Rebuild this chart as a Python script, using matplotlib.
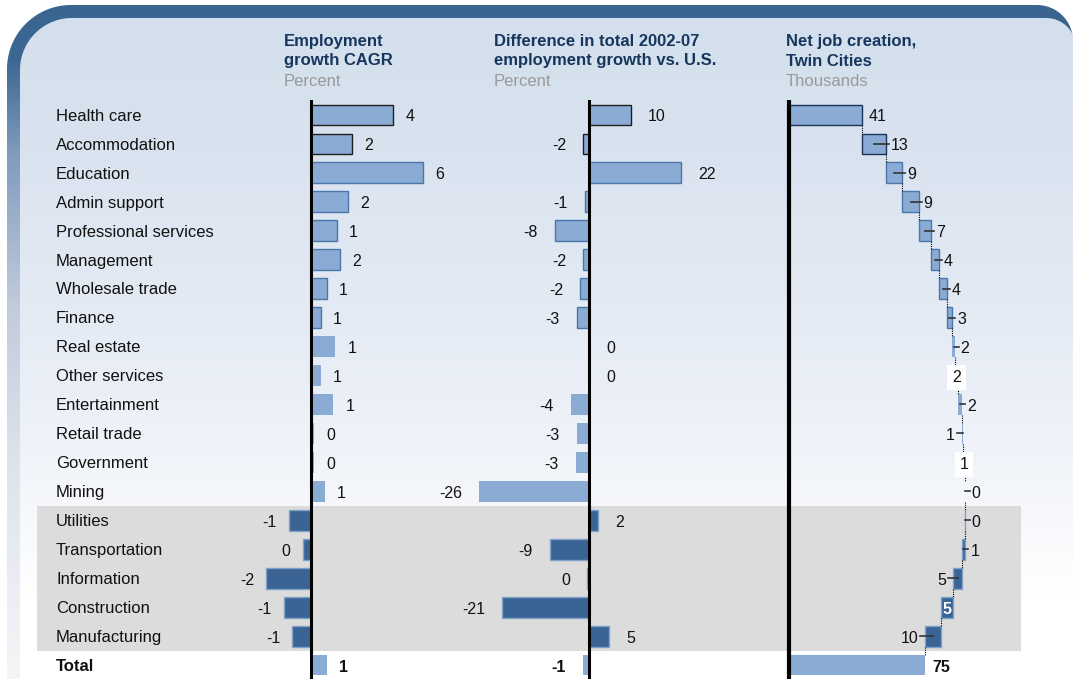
import numpy as np
import matplotlib
matplotlib.use('Agg')
import matplotlib.pyplot as plt
from matplotlib.patches import Polygon, Rectangle

plt.rcParams['font.family'] = ['Liberation Sans', 'DejaVu Sans']

# --- data ---
industries = ['Health care', 'Accommodation', 'Education', 'Admin support',
              'Professional services', 'Management', 'Wholesale trade', 'Finance',
              'Real estate', 'Other services', 'Entertainment', 'Retail trade',
              'Government', 'Mining', 'Utilities', 'Transportation', 'Information',
              'Construction', 'Manufacturing']

# employment growth CAGR, percent
cagr = [4.4, 2.2, 6.0, 2.0, 1.4, 1.55, 0.86, 0.53, 1.3, 0.53, 1.2, 0.16, 0.16, 0.75,
        -1.2, -0.45, -2.4, -1.45, -1.0]
cagr_labels = ['4', '2', '6', '2', '1', '2', '1', '1', '1', '1', '1', '0', '0', '1',
               '-1', '0', '-2', '-1', '-1']
cagr_total = 0.85
cagr_total_label = '1'

# difference in total 2002-07 employment growth vs. U.S., percent
diff = [10.0, -1.4, 21.9, -1.0, -8.1, -1.4, -2.1, -2.9, 0.0, 0.0, -4.4, -2.9, -3.1, -26.2,
        2.1, -9.3, -0.4, -20.6, 4.8]
diff_labels = ['10', '-2', '22', '-1', '-8', '-2', '-2', '-3', '0', '0', '-4', '-3', '-3', '-26',
               '2', '-9', '0', '-21', '5']
diff_total = -1.4
diff_total_label = '-1'

# net job creation, Twin Cities, thousands
net = [40.6, 13.3, 9.1, 9.0, 7.1, 4.3, 4.2, 3.0, 1.6, 1.6, 2.3, 0.8, 0.6, 0.4,
       -0.4, -1.2, -5.0, -7.0, -8.7]
net_labels = ['41', '13', '9', '9', '7', '4', '4', '3', '2', '2', '2', '1', '1', '0',
              '0', '1', '5', '5', '10']
net_total_label = '75'

# how each waterfall label is placed
net_label_mode = ['end', 'right', 'right', 'right', 'right', 'right', 'right', 'right',
                  'right', 'box', 'right', 'left', 'box', 'right', 'right', 'right',
                  'left', 'inside', 'left']

# --- layout ---
W, H = 1073, 679
ROW0, STEP = 115, 28.95
TOP = 100
n = len(industries)

LIGHT = '#8AABD3'
DARK = '#3A6494'
NAVY = '#17365D'
n_top = 14  # rows above the grey band


def row_px(i):
    return ROW0 + i * STEP


def edge_for(i, panel3=False):
    if i < 2:
        return '#1B3358' if panel3 else '#1E1E1E'
    if i < 8:
        return '#4C77AA'
    if i >= n_top:
        return '#7FA2CB'
    return 'none'


fills = [LIGHT if i < n_top else DARK for i in range(n)]

fig = plt.figure(figsize=(W / 100, H / 100), dpi=100)

# background axes in pixel units
bg = fig.add_axes([0, 0, 1, 1])
bg.set_xlim(0, W)
bg.set_ylim(H, 0)
bg.axis('off')


def round_rect(x0, y0, x1, y1, r_tl, r_tr):
    t1 = np.linspace(np.pi, 1.5 * np.pi, 40)
    t2 = np.linspace(1.5 * np.pi, 2 * np.pi, 40)
    tl = np.c_[x0 + r_tl + r_tl * np.cos(t1), y0 + r_tl + r_tl * np.sin(t1)]
    tr = np.c_[x1 - r_tr + r_tr * np.cos(t2), y0 + r_tr + r_tr * np.sin(t2)]
    pts = np.vstack([tl, tr, [[x1, y1], [x0, y1]]])
    return Polygon(pts, closed=True, transform=bg.transData, facecolor='none', edgecolor='none')


def vgrad(stops):
    ys = np.arange(H)
    pos = [s[0] for s in stops]
    rgb = np.array([matplotlib.colors.to_rgb(s[1]) for s in stops])
    img = np.stack([np.interp(ys, pos, rgb[:, k]) for k in range(3)], axis=1)
    return img[:, None, :]


outer = round_rect(7, 5, 1073, 760, 64, 36)
bg.add_patch(outer)
im = bg.imshow(vgrad([(0, '#3A6591'), (60, '#3C6792'), (150, '#7E9ABC'), (300, '#BFCADB'),
                      (450, '#DCE2EC'), (679, '#F4F5F8')]),
               extent=[0, W, H, 0], aspect='auto', interpolation='bilinear', zorder=0)
im.set_clip_path(outer)

inner = round_rect(20, 18, 1076, 760, 52, 30)
bg.add_patch(inner)
im2 = bg.imshow(vgrad([(0, '#D3DFED'), (150, '#D9E3EF'), (300, '#E3EAF4'), (420, '#EDF1F8'),
                       (500, '#F5F7FB'), (600, '#FFFFFF'), (679, '#FFFFFF')]),
                extent=[0, W, H, 0], aspect='auto', interpolation='bilinear', zorder=1)
im2.set_clip_path(inner)

# grey band behind the declining industries
bg.add_patch(Rectangle((37, row_px(n_top - 0.5)), 1021 - 37,
                       row_px(n - 0.5) - row_px(n_top - 0.5),
                       facecolor='#DCDCDC', edgecolor='none', zorder=2))

# category labels
for i, name in enumerate(industries + ['Total']):
    bg.text(56, row_px(i) + 5.8, name, fontsize=12, va='baseline', ha='left',
            fontweight='bold' if name == 'Total' else 'normal', color='#111111', zorder=3)

# headers
headers = [(284, ['Employment', 'growth CAGR'], 'Percent'),
           (494, ['Difference in total 2002-07', 'employment growth vs. U.S.'], 'Percent'),
           (786, ['Net job creation,', 'Twin Cities'], 'Thousands')]
for x, lines, unit in headers:
    bg.text(x, 46, lines[0], fontsize=12, fontweight='bold', color=NAVY, va='baseline', zorder=3)
    bg.text(x, 65.5, lines[1], fontsize=12, fontweight='bold', color=NAVY, va='baseline', zorder=3)
    bg.text(x, 86, unit, fontsize=12, color='#999999', va='baseline', zorder=3)


def panel(x0, x1, zero_px, scale, axis_lw):
    ax = fig.add_axes([x0 / W, 0, (x1 - x0) / W, (H - TOP) / H])
    ax.set_xlim(-(zero_px - x0) / scale, (x1 - zero_px) / scale)
    ax.set_ylim((H - ROW0) / STEP, (TOP - ROW0) / STEP)
    ax.axis('off')
    ax.patch.set_alpha(0)
    ax.axvline(0, color='black', lw=axis_lw, zorder=6)
    return ax


def simple_panel(ax, vals, labels, total, total_label, off):
    rows = np.arange(n)
    ax.barh(rows, vals, height=0.72, color=fills,
            edgecolor=[edge_for(i) for i in range(n)], linewidth=1, zorder=3)
    ax.barh([n], [total], height=0.72, color=LIGHT, edgecolor='none', zorder=3)
    for i, (v, lab) in enumerate(zip(vals + [total], labels + [total_label])):
        right = v >= 0
        ax.annotate(lab, (v, i), xytext=(off if right else -off, -6.5),
                    textcoords='offset pixels', ha='left' if right else 'right',
                    va='baseline', fontsize=11.5, color='#111111',
                    fontweight='bold' if i == n else 'normal')


ax1 = panel(230, 470, 311, 18.67, 2.2)
simple_panel(ax1, cagr, cagr_labels, cagr_total, cagr_total_label, 12)

ax2 = panel(470, 770, 589, 4.2, 2.2)
simple_panel(ax2, diff, diff_labels, diff_total, diff_total_label, 17)

# waterfall
SC3 = 1.8
ax3 = panel(780, 1065, 789, SC3, 3.0)
ends = np.cumsum(net)
starts = ends - np.array(net)
total_net = ends[-1]
rows = np.arange(n)
ax3.barh(rows, net, left=starts, height=0.72, color=fills,
         edgecolor=[edge_for(i, True) for i in range(n)], linewidth=1, zorder=3)
ax3.barh([n], [total_net], height=0.72, color=LIGHT, edgecolor='none', zorder=3)

# dotted connectors
for i in range(n):
    ax3.plot([ends[i], ends[i]], [i + 0.36, i + 0.64], color='black', lw=0.8,
             ls=(0, (1, 1)), zorder=4)

px = 1 / SC3
for i in range(n):
    s, e = starts[i], ends[i]
    c = (s + e) / 2
    lo, hi = min(s, e), max(s, e)
    mode = net_label_mode[i]
    lab = net_labels[i]
    if mode == 'end':
        ax3.annotate(lab, (hi, i), xytext=(7, -6.5), textcoords='offset pixels',
                     ha='left', va='baseline', fontsize=11.5, color='#111111', zorder=7)
    elif mode == 'right':
        lead = max(hi + 3 * px, c + 5 * px)
        ax3.plot([c, lead], [i, i], color='#333333', lw=1.2, zorder=5)
        ax3.annotate(lab, (lead, i), xytext=(2, -6.5), textcoords='offset pixels',
                     ha='left', va='baseline', fontsize=11.5, color='#111111', zorder=7)
    elif mode == 'left':
        lead = min(lo - 5 * px, c - 5 * px)
        ax3.plot([lead, c], [i, i], color='#333333', lw=1.2, zorder=5)
        ax3.annotate(lab, (lead, i), xytext=(-2, -6.5), textcoords='offset pixels',
                     ha='right', va='baseline', fontsize=11.5, color='#111111', zorder=7)
    elif mode == 'box':
        ax3.annotate(lab, (c, i), xytext=(0, -6.5), textcoords='offset pixels',
                     ha='center', va='baseline', fontsize=11.5, color='#111111', zorder=7,
                     bbox=dict(boxstyle='square,pad=0.3', facecolor='white', edgecolor='none'))
    else:
        ax3.annotate(lab, (c, i), xytext=(0, -6.5), textcoords='offset pixels',
                     ha='center', va='baseline', fontsize=11.5, color='white',
                     fontweight='bold', zorder=7)

ax3.annotate(net_total_label, (total_net, n), xytext=(7, -6.5), textcoords='offset pixels',
             ha='left', va='baseline', fontsize=11.5, fontweight='bold', color='#111111')

fig.savefig('out.png', dpi=100)
